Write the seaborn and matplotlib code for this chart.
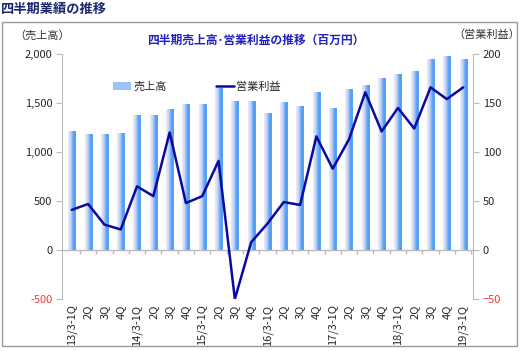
import numpy as np
import pandas as pd
import seaborn as sns
import matplotlib
matplotlib.use("Agg")
import matplotlib.pyplot as plt
from matplotlib.colors import LinearSegmentedColormap
from matplotlib.patches import Rectangle
from matplotlib.lines import Line2D

# 四半期データ
quarters = ["13/3-1Q", "2Q", "3Q", "4Q",
            "14/3-1Q", "2Q ", "3Q ", "4Q ",
            "15/3-1Q", "2Q  ", "3Q  ", "4Q  ",
            "16/3-1Q", "2Q   ", "3Q   ", "4Q   ",
            "17/3-1Q", "2Q    ", "3Q    ", "4Q    ",
            "18/3-1Q", "2Q     ", "3Q     ", "4Q     ",
            "19/3-1Q"]
sales = [1215, 1188, 1186, 1190, 1380, 1375, 1438, 1486, 1486, 1650,
         1523, 1517, 1397, 1510, 1472, 1612, 1445, 1639, 1680, 1754,
         1792, 1823, 1948, 1982, 1945]
profit = [41, 47, 26, 21, 65, 55, 120, 48, 55, 91,
          -50, 8, 27, 49, 46, 116, 83, 113, 161, 121,
          145, 124, 166, 154, 166]

sns.set_style("white")
plt.rcParams["font.family"] = ["Noto Sans CJK JP", "DejaVu Sans"]

df = pd.DataFrame({"quarter": quarters, "sales": sales, "profit": profit})

fig = plt.figure(figsize=(5.22, 3.51), dpi=100)
ax = fig.add_axes([0.1188, 0.148, 0.7872, 0.698])

sns.barplot(data=df, x="quarter", y="sales", order=quarters, color="#5aa5f7",
            width=0.44, ax=ax, zorder=2)

# グラデーションの棒
cmap = LinearSegmentedColormap.from_list(
    "bar", ["#ebebf6", "#dcdff3", "#b4cdf4", "#74adf6", "#4b9bf4", "#5ba6f7"])
grad = np.linspace(0, 1, 64).reshape(1, -1)
for p in ax.patches:
    x0, y0 = p.get_x(), p.get_y()
    w, h = p.get_width(), p.get_height()
    im = ax.imshow(grad, cmap=cmap, aspect="auto", zorder=2,
                   extent=[x0, x0 + w, y0, y0 + h], interpolation="bilinear")
    im.set_clip_path(p)
    p.set_facecolor("none")
    p.set_edgecolor("none")
ax.set_ylim(-500, 2000)
ax.set_xlim(-0.6, len(quarters) - 0.4)

# 軸まわり
for s in ["top", "right", "bottom"]:
    ax.spines[s].set_visible(False)
ax.spines["left"].set_color("#bbbbbb")
ax.axhline(0, color="#bbbbbb", lw=1, zorder=1)
ax.vlines(np.arange(len(quarters)) + 0.5, -45, 0, color="#bbbbbb", lw=1)
ax.set_yticks(range(-500, 2001, 500))
ax.set_yticklabels([f"{v:,}" for v in range(-500, 2001, 500)])
ax.tick_params(axis="y", direction="out", length=4, color="#bbbbbb",
               labelsize=8, pad=3, left=True)
ax.tick_params(axis="x", length=0, labelsize=8, pad=4)
ax.set_xticks(range(len(quarters)))
ax.set_xticklabels([q.strip() for q in quarters], rotation=90)
ax.get_yticklabels()[0].set_color("#ff3333")
ax.set_xlabel("")
ax.set_ylabel("")

ax2 = ax.twinx()
sns.lineplot(x=np.arange(len(quarters)), y=profit, color="#0a0aa0", lw=1.8,
             ax=ax2, zorder=3)
ax2.set_ylim(-50, 200)
ax2.set_xlim(-0.6, len(quarters) - 0.4)
for s in ["top", "left", "bottom"]:
    ax2.spines[s].set_visible(False)
ax2.spines["right"].set_color("#bbbbbb")
ax2.set_yticks(range(-50, 201, 50))
ax2.tick_params(axis="y", direction="out", length=4, color="#bbbbbb",
                labelsize=8, pad=3, right=True)
ax2.get_yticklabels()[0].set_color("#ff3333")

# 凡例
handles = [Rectangle((0, 0), 1, 1, facecolor="#9cc3f5", edgecolor="none"),
           Line2D([], [], color="#0a0aa0", lw=1.8)]
ax.legend(handles, ["売上高", "営業利益"], ncol=2, frameon=False, fontsize=8,
          loc="upper left", bbox_to_anchor=(0.1, 0.93), columnspacing=4.5,
          handlelength=1.6, handletextpad=0.2, handleheight=0.7)

# テキスト
fig.text(0.002, 0.995, "四半期業績の推移", fontsize=9.5, fontweight="bold",
         color="#1a2770", ha="left", va="top")
fig.text(0.49, 0.885, "四半期売上高･営業利益の推移（百万円）", fontsize=8.5,
         fontweight="bold", color="#2222bb", ha="center", va="center")
fig.text(0.08, 0.9, "（売上高）", fontsize=8, color="#333333",
         ha="center", va="center")
fig.text(0.933, 0.9, "（営業利益）", fontsize=8, color="#333333",
         ha="center", va="center")

fig.add_artist(Rectangle((0.004, 0.014), 0.987, 0.923, transform=fig.transFigure,
                         facecolor="none", edgecolor="#999999", lw=1))

fig.savefig("out.png", dpi=100)
